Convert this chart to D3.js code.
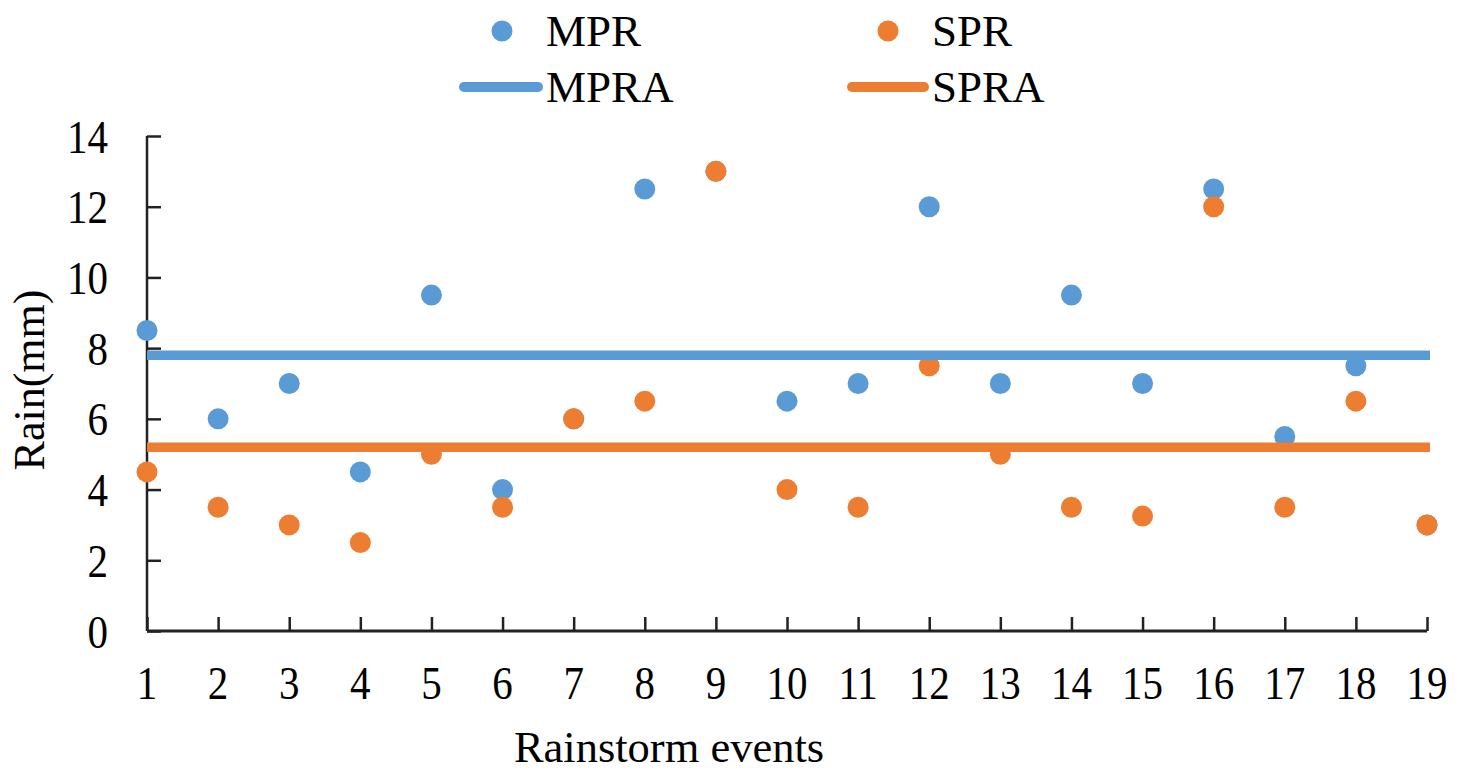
<!DOCTYPE html>
<html>
<head>
<meta charset="utf-8">
<script src="https://cdn.jsdelivr.net/npm/d3@7"></script>
<style>
  html, body { margin: 0; padding: 0; background: #fff; }
  text { font-family: "Liberation Serif", "Times New Roman", serif; fill: #000; }
</style>
</head>
<body>
<div id="chart"></div>
<script>

// rainstorm events 1..19
var events = d3.range(1, 20);
var mprValues = [8.5, 6, 7, 4.5, 9.5, 4, 6, 12.5, 13, 6.5, 7, 12, 7, 9.5, 7, 12.5, 5.5, 7.5, 3];
var sprValues = [4.5, 3.5, 3, 2.5, 5, 3.5, 6, 6.5, 13, 4, 3.5, 7.5, 5, 3.5, 3.25, 12, 3.5, 6.5, 3];
var mprAverage = 7.8;
var sprAverage = 5.2;
var yTicks = [0, 2, 4, 6, 8, 10, 12, 14];

var blue = "#5b9bd5";
var orange = "#ed7d31";

var width = 1471, height = 777;

var svg = d3.select("#chart").append("svg")
  .attr("width", width)
  .attr("height", height);

var x = d3.scaleLinear().domain([1, 19]).range([147, 1427]);
var y = d3.scaleLinear().domain([0, 14]).range([631, 136]);

// tick labels in the source look a bit taller than wide
var tickFont = 41, stretch = 1.15;

// y axis, ticks pointing into the plot
var yAxis = svg.append("g")
  .attr("transform", "translate(" + x(1) + ",0)")
  .call(d3.axisRight(y).tickValues(yTicks).tickSize(14).tickFormat(""));
yAxis.select(".domain").attr("stroke", "#222").attr("stroke-width", 2.5)
  .attr("d", "M0," + y(14) + "V" + y(0));
yAxis.selectAll(".tick line").attr("stroke", "#222").attr("stroke-width", 2.5);

svg.append("g").selectAll("text")
  .data(yTicks)
  .join("text")
  .attr("transform", function(d) {
    return "translate(108," + y(d) + ") scale(1," + stretch + ")";
  })
  .attr("dy", "0.35em")
  .attr("text-anchor", "end")
  .attr("font-size", tickFont)
  .text(function(d) { return d; });

// x axis, ticks pointing up
var xAxis = svg.append("g")
  .attr("transform", "translate(0," + y(0) + ")")
  .call(d3.axisTop(x).tickValues(events).tickSize(14).tickFormat(""));
xAxis.select(".domain").attr("stroke", "#222").attr("stroke-width", 3)
  .attr("d", "M" + x(1) + ",0H" + x(19));
xAxis.selectAll(".tick line").attr("stroke", "#222").attr("stroke-width", 2.5);

svg.append("g").selectAll("text")
  .data(events)
  .join("text")
  .attr("transform", function(d) {
    return "translate(" + x(d) + ",699) scale(1," + stretch + ")";
  })
  .attr("text-anchor", "middle")
  .attr("font-size", tickFont)
  .text(function(d) { return d; });

// axis titles
svg.append("text")
  .attr("x", 669)
  .attr("y", 762)
  .attr("text-anchor", "middle")
  .attr("font-size", 44.5)
  .text("Rainstorm events");

svg.append("text")
  .attr("transform", "translate(44,380) rotate(-90)")
  .attr("text-anchor", "middle")
  .attr("font-size", 44)
  .text("Rain(mm)");

// points
var r = 10.5;
svg.append("g").selectAll("circle")
  .data(mprValues)
  .join("circle")
  .attr("cx", function(d, i) { return x(events[i]); })
  .attr("cy", function(d) { return y(d); })
  .attr("r", r)
  .attr("fill", blue);

svg.append("g").selectAll("circle")
  .data(sprValues)
  .join("circle")
  .attr("cx", function(d, i) { return x(events[i]); })
  .attr("cy", function(d) { return y(d); })
  .attr("r", r)
  .attr("fill", orange);

// average lines
var avgLines = [
  { value: mprAverage, color: blue },
  { value: sprAverage, color: orange }
];
svg.append("g").selectAll("line")
  .data(avgLines)
  .join("line")
  .attr("x1", x(1))
  .attr("x2", x(19) + 3)
  .attr("y1", function(d) { return y(d.value); })
  .attr("y2", function(d) { return y(d.value); })
  .attr("stroke", function(d) { return d.color; })
  .attr("stroke-width", 9.5);

// legend
var legend = svg.append("g");
var legendItems = [
  { name: "MPR", color: blue, type: "dot", lx: 502, tx: 546, row: 0 },
  { name: "SPR", color: orange, type: "dot", lx: 888, tx: 932, row: 0 },
  { name: "MPRA", color: blue, type: "line", lx: 460, tx: 546, row: 1 },
  { name: "SPRA", color: orange, type: "line", lx: 848, tx: 932, row: 1 }
];
var rowY = [31, 87];

legendItems.forEach(function(d) {
  var cy = rowY[d.row];
  if (d.type === "dot") {
    legend.append("circle")
      .attr("cx", d.lx).attr("cy", cy).attr("r", r)
      .attr("fill", d.color);
  } else {
    legend.append("line")
      .attr("x1", d.lx + 4).attr("x2", d.tx - 8)
      .attr("y1", cy).attr("y2", cy)
      .attr("stroke", d.color)
      .attr("stroke-width", 10)
      .attr("stroke-linecap", "round");
  }
  legend.append("text")
    .attr("x", d.tx)
    .attr("y", cy + 15)
    .attr("font-size", 45)
    .text(d.name);
});

</script>
</body>
</html>
